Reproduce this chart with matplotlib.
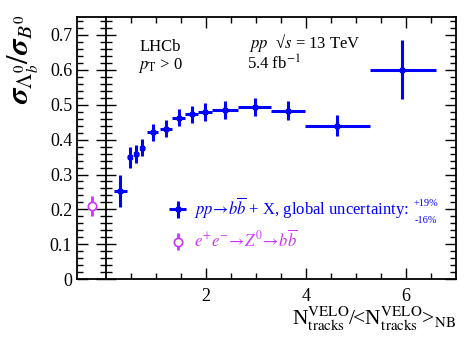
import matplotlib
matplotlib.use("Agg")
import matplotlib.pyplot as plt
from matplotlib.ticker import MultipleLocator, FixedLocator
import numpy as np

plt.rcParams['font.family'] = ['Liberation Serif', 'DejaVu Serif']
plt.rcParams['mathtext.fontset'] = 'stix'

# LHCb pp -> bb + X, ratio vs normalised VELO track multiplicity
x_c = [0.28, 0.47, 0.60, 0.72, 0.93, 1.19, 1.45, 1.71, 1.98, 2.37, 2.97, 3.63, 4.61, 5.92]
x_lo = [0.15, 0.42, 0.55, 0.67, 0.81, 1.07, 1.32, 1.58, 1.84, 2.12, 2.64, 3.30, 3.97, 5.27]
x_hi = [0.41, 0.52, 0.65, 0.77, 1.04, 1.32, 1.58, 1.84, 2.11, 2.64, 3.30, 3.97, 5.27, 6.60]
ratio = [0.254, 0.350, 0.359, 0.377, 0.421, 0.431, 0.463, 0.472, 0.479, 0.484, 0.493, 0.483, 0.440, 0.600]
ratio_err = [0.046, 0.030, 0.025, 0.024, 0.024, 0.024, 0.024, 0.025, 0.026, 0.026, 0.026, 0.028, 0.029, 0.084]

# e+e- -> Z0 -> bb reference point
ee_x = -0.28
ee_y = 0.21
ee_err = 0.029

blue = '#0000FF'
magenta = '#CC33FF'

x_c = np.array(x_c)
xerr = [x_c - np.array(x_lo), np.array(x_hi) - x_c]

fig = plt.figure(figsize=(4.74, 3.40), dpi=100)
ax = fig.add_axes([77/474, 1-279.3/340, 379/474, 262/340])

pp = ax.errorbar(x_c, ratio, xerr=xerr, yerr=ratio_err, fmt='s', color=blue,
                 ms=3, elinewidth=2.2, capsize=0, lw=0,
                 label=r'$pp\!\rightarrow\! b\overline{b}$ + X, global uncertainty:')
ee = ax.errorbar([ee_x], [ee_y], yerr=[ee_err], fmt='o', color=magenta, mfc='white',
                 mec=magenta, ms=6, mew=1.2, elinewidth=2, capsize=0,
                 label=r'$e^{+}e^{-}\!\rightarrow\! Z^{0}\!\rightarrow\! b\overline{b}$')

xmin, xmax = -0.58, 7.0
ax.set_xlim(xmin, xmax)
ax.set_ylim(0, 0.75)

for s in ax.spines.values():
    s.set_linewidth(1.3)

ax.xaxis.set_major_locator(FixedLocator([2, 4, 6]))
ax.xaxis.set_minor_locator(FixedLocator(np.arange(0.5, 7.0, 0.5)))
ax.yaxis.set_minor_locator(MultipleLocator(0.02))
ax.set_yticks(np.arange(0, 0.71, 0.1))
ax.set_yticklabels(['0', '0.1', '0.2', '0.3', '0.4', '0.5', '0.6', '0.7'])
ax.tick_params(which='both', direction='in', top=True, right=True, labelsize=13, width=1)
ax.tick_params(which='major', length=8)
ax.tick_params(which='minor', length=4)
ax.tick_params(axis='x', which='major', pad=6)

# inner axis at x = 0
loc0 = (0 - xmin) / (xmax - xmin)
sec = ax.secondary_yaxis(loc0)
sec.spines['left'].set_linewidth(1.3)
sec.yaxis.set_major_locator(MultipleLocator(0.1))
sec.yaxis.set_minor_locator(MultipleLocator(0.02))
sec.tick_params(which='both', direction='inout', labelleft=False, width=1)
sec.tick_params(which='major', length=14)
sec.tick_params(which='minor', length=8)

leg = ax.legend(handles=[pp, ee], loc='upper left', bbox_to_anchor=(0.215, 0.35),
                frameon=False, fontsize=12, handlelength=1.3, handletextpad=0.35,
                labelspacing=0.55, borderpad=0, labelcolor='linecolor')
ax.text(0.887, 0.291, '+19%', transform=ax.transAxes, fontsize=7.5, color=blue, va='center')
ax.text(0.892, 0.226, '-16%', transform=ax.transAxes, fontsize=7.5, color=blue, va='center')

ax.text(0.164, 0.885, 'LHCb', transform=ax.transAxes, fontsize=12, va='center')
ax.text(0.161, 0.815, r'$p_{\rm T}$ > 0', transform=ax.transAxes, fontsize=12, va='center')
ax.text(0.454, 0.9, r'$pp$  √$s$ = 13 TeV', transform=ax.transAxes, fontsize=12, va='center')
ax.text(0.449, 0.82, r'5.4 fb$^{-1}$', transform=ax.transAxes, fontsize=12, va='center')

fig.text(0.05, 0.958, r'$\boldsymbol{\sigma}_{\Lambda_b^0}/\boldsymbol{\sigma}_{B^0}$',
         rotation=90, ha='center', va='top', fontsize=22)
fig.text(0.962, 0.02, r'N$^{\rm VELO}_{\rm tracks}$/<N$^{\rm VELO}_{\rm tracks}$>$_{\rm NB}$',
         ha='right', va='bottom', fontsize=15.5)

fig.savefig('out.png', dpi=100)
